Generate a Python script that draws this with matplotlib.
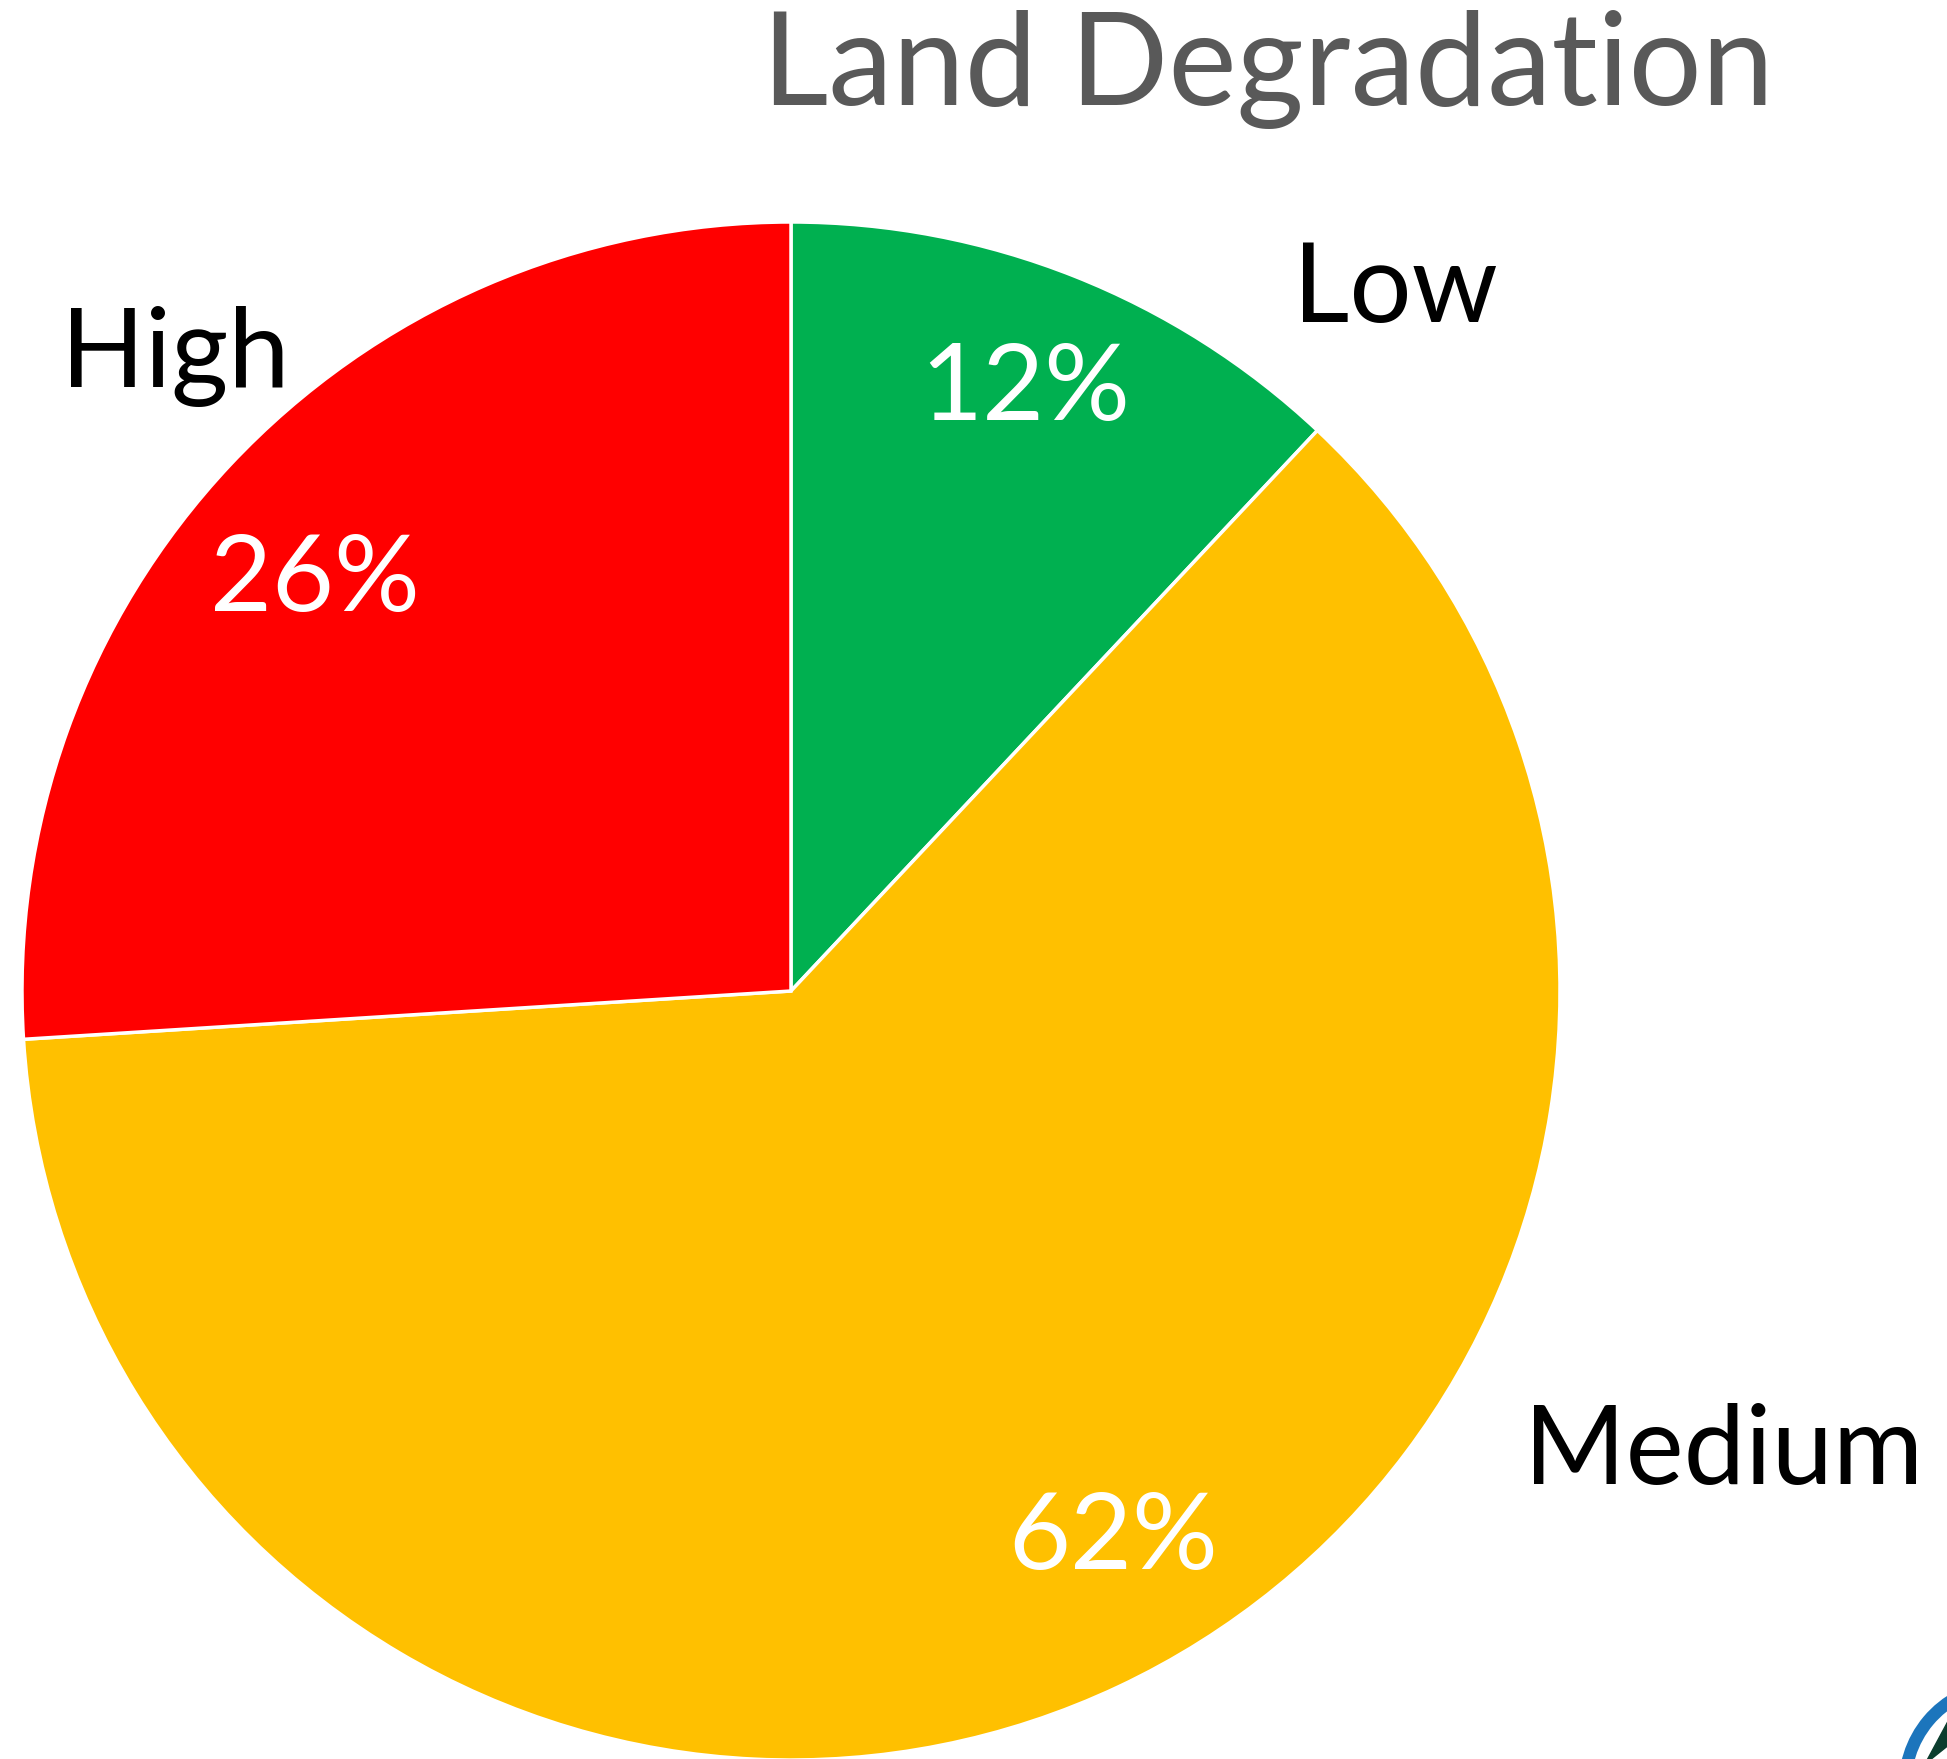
import matplotlib.pyplot as plt
from matplotlib.patches import Arc, Polygon

# data
categories = ['Low', 'Medium', 'High']
values = [12, 62, 26]
colors = ['#00B050', '#FFC000', '#FF0000']
pct_labels = ['12%', '62%', '26%']
title = 'Land Degradation'

W, H = 1947, 1759
fig = plt.figure(figsize=(W / 100, H / 100), dpi=100)
ax = fig.add_axes([0, 0, 1, 1])

ax.pie(values, colors=colors, startangle=90, counterclock=False,
       center=(791, 768), radius=769, frame=True,
       wedgeprops=dict(edgecolor='white', linewidth=2.5))
ax.set_xlim(0, W)
ax.set_ylim(0, H)
ax.set_aspect('equal')
ax.axis('off')

font = 'Lato'
ax.text(1268, 1654, title, ha='center', va='baseline', fontsize=93,
        color='#595959', family=font)

# category labels (placed by hand as in the original)
cat_pos = {'Low': (1395, 1437), 'Medium': (1724, 275), 'High': (175, 1372)}
pct_pos = {'Low': (1025, 1339), 'Medium': (1113, 190), 'High': (315, 1148)}
for cat, pct in zip(categories, pct_labels):
    x, y = cat_pos[cat]
    ax.text(x, y, cat, ha='center', va='baseline', fontsize=79, color='black', family=font)
    x, y = pct_pos[cat]
    ax.text(x, y, pct, ha='center', va='baseline', fontsize=77, color='white', family=font)

# bits of the logo peeking in at the bottom right corner
ax.add_patch(Arc((2005, -26), 200, 200, theta1=95, theta2=185, color='#1C75BC', lw=9))
ax.add_patch(Polygon([[1925, -5], [1960, 60], [1990, 10], [1950, 15]], closed=True,
                     color='#0B3D2E'))
ax.add_patch(Arc((1995, -60), 140, 110, theta1=100, theta2=170, color='#1C3F94', lw=5))

fig.savefig('out.png', dpi=100)
